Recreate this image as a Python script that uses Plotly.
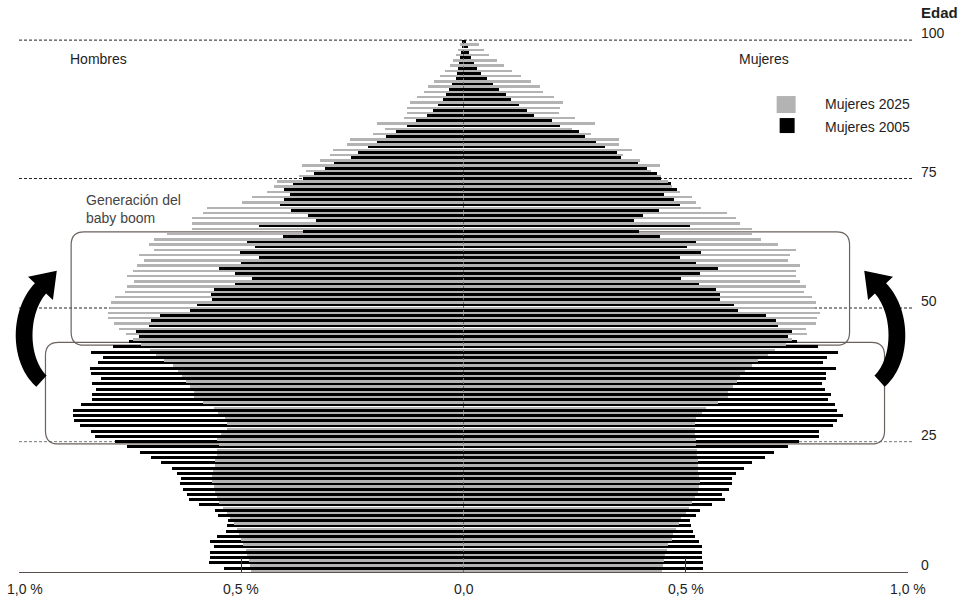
import math
import plotly.graph_objects as go

# ---------------- data (percent of total population, by single year of age) ----
AGES = list(range(101))

MEN_2005 = [.538, .573, .571, .570, .561, .571, .555, .534, .532, .530,
            .553, .559, .594, .617, .621, .631, .637, .636, .645, .655,
            .680, .704, .727, .758, .785, .830, .839, .863, .877, .879,
            .879, .860, .835, .835, .827, .835, .815, .837, .841, .822,
            .812, .837, .788, .753, .730, .736, .708, .704, .682, .615,
            .600, .566, .569, .562, .515, .475, .513, .549, .501, .461,
            .502, .470, .487, .407, .360, .460, .331, .350, .387, .412,
            .403, .390, .403, .384, .360, .336, .311, .291, .253, .238,
            .214, .195, .174, .152, .128, .107, .082, .068, .057, .046,
            .039, .032, .025, .017, .014, .012, .010, .008, .006, .004,
            .002]

MEN_2025 = [.478, .480, .483, .487, .490, .495, .500, .505, .510, .517,
            .525, .532, .540, .549, .555, .560, .561, .566, .566, .564,
            .558, .558, .555, .555, .550, .555, .545, .532, .532, .536,
            .553, .562, .585, .607, .607, .615, .624, .633, .643, .653,
            .673, .691, .705, .725, .743, .760, .774, .786, .800, .800,
            .795, .792, .784, .761, .757, .742, .757, .743, .734, .719,
            .731, .697, .708, .697, .667, .611, .611, .611, .585, .577,
            .498, .476, .442, .427, .420, .370, .355, .364, .322, .300,
            .293, .262, .255, .203, .176, .195, .134, .128, .128, .120,
            .104, .089, .079, .066, .053, .042, .030, .023, .017, .012,
            .008]

WOMEN_2005 = [.539, .539, .537, .537, .537, .530, .520, .517, .511, .509,
              .522, .533, .560, .589, .582, .597, .603, .603, .612, .630,
              .649, .678, .698, .731, .754, .800, .800, .831, .841, .853,
              .840, .836, .820, .826, .814, .807, .816, .816, .837, .809,
              .818, .842, .797, .751, .731, .738, .708, .702, .681, .618,
              .608, .576, .578, .569, .530, .490, .531, .573, .524, .488,
              .534, .503, .524, .441, .394, .509, .383, .403, .439, .488,
              .474, .451, .481, .466, .444, .436, .412, .393, .354, .346,
              .319, .299, .273, .260, .218, .200, .158, .143, .125, .107,
              .096, .080, .066, .052, .040, .030, .024, .017, .012, .009,
              .006]

WOMEN_2025 = [.446, .448, .451, .454, .458, .460, .468, .471, .479, .484,
              .490, .500, .507, .513, .520, .528, .530, .531, .530, .528,
              .528, .528, .525, .525, .524, .524, .520, .520, .520, .522,
              .537, .546, .573, .594, .594, .606, .616, .621, .633, .648,
              .662, .685, .700, .725, .738, .772, .770, .792, .796, .803,
              .791, .792, .785, .767, .770, .756, .747, .747, .758, .730,
              .734, .749, .707, .669, .648, .649, .623, .612, .592, .535,
              .524, .515, .488, .468, .460, .444, .421, .442, .397, .359,
              .380, .349, .349, .286, .245, .295, .250, .215, .218, .224,
              .203, .178, .172, .151, .129, .110, .091, .075, .057, .046,
              .035]

X_TICKS = [-1.0, -0.5, 0.0, 0.5, 1.0]
X_TICK_TEXT = ["1,0 %", "0,5 %", "0,0", "0,5 %", "1,0 %"]
AGE_LABELS = ["100", "75", "50", "25", "0"]
AGE_LABEL_POS = [100.3, 74.0, 49.4, 24.0, -0.76]   # where the guide lines sit

LEGEND_TEXT = ["Mujeres 2025", "Mujeres 2005"]

# ---------------- style ----------------
FONT = "Liberation Sans, Arial, sans-serif"
GRAY = "#b3b3b3"
BLACK = "#000000"
TXT = "#1e1e1e"

W, H = 968, 599
PL, PR = 18.5, 59.5
PT, PB = 28.0, 27.3
PW = W - PL - PR
PH = H - PT - PB
Y_MIN, Y_MAX = -0.76, 102.6


def px(x):
    return (x - PL) / PW


def py(y):
    return (PT + PH - y) / PH


fig = go.Figure()

neg = lambda v: [-a for a in v]
bar_common = dict(orientation="h", marker_line_width=0, hoverinfo="skip", showlegend=False)
# black (2005) bars centred on the age, grey (2025) bars half a year lower
fig.add_trace(go.Bar(x=neg(MEN_2005), y=AGES, width=0.57, offset=-0.285,
                     marker_color=BLACK, name="Hombres 2005", **bar_common))
fig.add_trace(go.Bar(x=neg(MEN_2025), y=AGES, width=0.37, offset=-0.685,
                     marker_color=GRAY, name="Hombres 2025", **bar_common))
fig.add_trace(go.Bar(x=WOMEN_2005, y=AGES, width=0.57, offset=-0.285,
                     marker_color=BLACK, name=LEGEND_TEXT[1], **bar_common))
fig.add_trace(go.Bar(x=WOMEN_2025, y=AGES, width=0.37, offset=-0.685,
                     marker_color=GRAY, name=LEGEND_TEXT[0], **bar_common))

shapes = []
annotations = []

# horizontal guide lines + age labels on the right
for lab, yv in zip(AGE_LABELS, AGE_LABEL_POS):
    if lab != "0":
        shapes.append(dict(type="line", xref="paper", yref="y",
                           x0=0, x1=px(913), y0=yv, y1=yv, layer="below",
                           line=dict(color="#222" if lab != "25" else "#777",
                                     width=1, dash="3px,2px")))
    annotations.append(dict(xref="paper", yref="y", x=px(920), y=yv, yshift=7,
                            text=lab, showarrow=False, xanchor="left", yanchor="middle",
                            font=dict(family=FONT, size=14, color=TXT)))

# centre dotted line
shapes.append(dict(type="line", xref="x", yref="y", x0=0, x1=0,
                   y0=Y_MIN, y1=AGE_LABEL_POS[0], layer="above",
                   line=dict(color="#6a6a6a", width=1, dash="2px,2px")))


def rounded_box(x0, y0, x1, y1, r):
    p = [f"M{px(x0 + r)},{py(y0)}",
         f"L{px(x1 - r)},{py(y0)}", f"Q{px(x1)},{py(y0)} {px(x1)},{py(y0 + r)}",
         f"L{px(x1)},{py(y1 - r)}", f"Q{px(x1)},{py(y1)} {px(x1 - r)},{py(y1)}",
         f"L{px(x0 + r)},{py(y1)}", f"Q{px(x0)},{py(y1)} {px(x0)},{py(y1 - r)}",
         f"L{px(x0)},{py(y0 + r)}", f"Q{px(x0)},{py(y0)} {px(x0 + r)},{py(y0)}", "Z"]
    return " ".join(p)


for bx in [(70.7, 231.7, 850, 345), (45, 342.3, 885, 443.7)]:
    shapes.append(dict(type="path", xref="paper", yref="paper",
                       path=rounded_box(*bx, 13), layer="below",
                       line=dict(color="#6b615d", width=1.2)))


def arrow_path(P0, C1, C2, P3, head_len=24, head_half=17):
    def bez(t):
        a, b, c, d = (1 - t) ** 3, 3 * (1 - t) ** 2 * t, 3 * (1 - t) * t ** 2, t ** 3
        return (a * P0[0] + b * C1[0] + c * C2[0] + d * P3[0],
                a * P0[1] + b * C1[1] + c * C2[1] + d * P3[1])

    def der(t):
        return (3 * (1 - t) ** 2 * (C1[0] - P0[0]) + 6 * (1 - t) * t * (C2[0] - C1[0]) + 3 * t ** 2 * (P3[0] - C2[0]),
                3 * (1 - t) ** 2 * (C1[1] - P0[1]) + 6 * (1 - t) * t * (C2[1] - C1[1]) + 3 * t ** 2 * (P3[1] - C2[1]))

    left, right = [], []
    N = 40
    for i in range(N + 1):
        t = i / N
        cx, cy = bez(t)
        dx, dy = der(t)
        L = math.hypot(dx, dy)
        nx, ny = -dy / L, dx / L
        w = 7.6 + 0.8 * math.sin(math.pi * t)
        left.append((cx + nx * w, cy + ny * w))
        right.append((cx - nx * w, cy - ny * w))
    ux, uy = der(1.0)
    L = math.hypot(ux, uy)
    ux, uy = ux / L, uy / L
    nx, ny = -uy, ux
    tip = (P3[0] + ux * head_len, P3[1] + uy * head_len)
    b1 = (P3[0] + nx * head_half, P3[1] + ny * head_half)
    b2 = (P3[0] - nx * head_half, P3[1] - ny * head_half)
    pts = left + [b1, tip, b2] + right[::-1]
    return "M" + " L".join(f"{px(x):.5f},{py(y):.5f}" for x, y in pts) + " Z"


LEFT_ARROW = [(41, 381), (18, 360), (18, 312), (40, 288.3)]
MIRROR_X = 460.5
RIGHT_ARROW = [(2 * MIRROR_X - x, y) for x, y in LEFT_ARROW]
for pts in (LEFT_ARROW, RIGHT_ARROW):
    shapes.append(dict(type="path", xref="paper", yref="paper", path=arrow_path(*pts),
                       fillcolor="#000", line=dict(width=0), layer="above"))

# legend squares
shapes.append(dict(type="rect", xref="paper", yref="paper", x0=px(777), x1=px(796),
                   y0=py(113), y1=py(96), fillcolor=GRAY, line=dict(width=0)))
shapes.append(dict(type="rect", xref="paper", yref="paper", x0=px(780), x1=px(795),
                   y0=py(133), y1=py(118), fillcolor=BLACK, line=dict(width=0)))


def text(x, y, s, size=14, color=TXT, anchor="left", **kw):
    annotations.append(dict(xref="paper", yref="paper", x=px(x), y=py(y), text=s,
                            showarrow=False, xanchor=anchor, yanchor="middle",
                            font=dict(family=FONT, size=size, color=color), **kw))


text(823, 104, LEGEND_TEXT[0])
text(823, 127, LEGEND_TEXT[1])
text(68, 59, "Hombres")
text(737, 59, "Mujeres")
text(920, 13, "<b>Edad</b>", size=15)
annotations.append(dict(xref="paper", yref="paper", x=px(84), y=py(190), text="Generación del<br>baby boom",
                        showarrow=False, xanchor="left", yanchor="top", align="left",
                        font=dict(family=FONT, size=14, color="#444")))

# x tick labels
for i, (xv, lab) in enumerate(zip(X_TICKS, X_TICK_TEXT)):
    annotations.append(dict(xref="x", yref="paper", x=xv, y=py(589), text=lab,
                            xshift=6 if i == 0 else 0, showarrow=False,
                            xanchor="center", yanchor="middle",
                            font=dict(family=FONT, size=14, color=TXT)))

fig.update_layout(
    width=W, height=H, autosize=False,
    margin=dict(l=PL, r=PR, t=PT, b=PB, pad=0),
    paper_bgcolor="white", plot_bgcolor="white",
    barmode="overlay", bargap=0,
    showlegend=False,
    xaxis=dict(range=[-1, 1], showgrid=False, zeroline=False, showline=True,
               linecolor="#57504d", linewidth=1, ticks="inside", ticklen=14,
               tickcolor="#333", tickwidth=1, tickvals=[-1, -0.5, 0.5, 1],
               showticklabels=False, fixedrange=True),
    yaxis=dict(range=[Y_MIN, Y_MAX], visible=False, fixedrange=True),
    shapes=shapes, annotations=annotations,
)

fig.write_html("out.html", config={"displayModeBar": False},
               post_script="document.body.style.margin='0';document.body.style.overflow='hidden';")
